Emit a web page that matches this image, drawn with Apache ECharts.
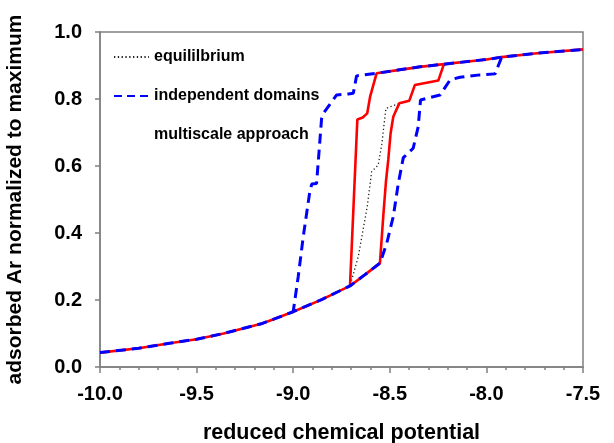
<!DOCTYPE html>
<html>
  <head>
    <meta charset="utf-8" />
    <title>Adsorption hysteresis</title>
    <script src="https://cdn.jsdelivr.net/npm/echarts@6/dist/echarts.min.js"></script>
    <style>
      html, body { margin: 0; padding: 0; background: #fff; }
    </style>
  </head>
  <body>
    <div id="main" style="width: 614px; height: 443px"></div>

    <script type="text/javascript">
      // branches, [mu, adsorbed fraction]
      var lowerBranch = [
        [-10.0, 0.043], [-9.8, 0.056], [-9.64, 0.071], [-9.5, 0.083],
        [-9.36, 0.1], [-9.16, 0.13], [-9.0, 0.165], [-8.85, 0.202],
        [-8.706, 0.242], [-8.63, 0.275], [-8.551, 0.31]
      ];
      var upperBranch = [
        [-8.672, 0.869], [-8.568, 0.877], [-8.45, 0.887], [-8.344, 0.896],
        [-8.22, 0.904], [-8.0, 0.918], [-7.921, 0.925], [-7.75, 0.936],
        [-7.5, 0.948]
      ];
      var equilibriumRise = [
        [-8.715, 0.245], [-8.663, 0.33], [-8.617, 0.478], [-8.594, 0.583],
        [-8.56, 0.603], [-8.542, 0.663], [-8.52, 0.772], [-8.45, 0.787],
        [-8.399, 0.795], [-8.37, 0.842], [-8.249, 0.855], [-8.22, 0.904]
      ];
      var multiscaleUp = [
        [-8.534, 0.449], [-8.52, 0.553], [-8.508, 0.618], [-8.496, 0.697],
        [-8.482, 0.747], [-8.451, 0.787], [-8.399, 0.795], [-8.37, 0.842],
        [-8.249, 0.855], [-8.22, 0.904]
      ];
      var multiscaleDown = [
        [-8.602, 0.807], [-8.617, 0.757], [-8.64, 0.745], [-8.668, 0.739],
        [-8.706, 0.242]
      ];
      var independentUp = [
        [-8.516, 0.369], [-8.482, 0.449], [-8.456, 0.548], [-8.43, 0.625],
        [-8.379, 0.653], [-8.353, 0.717], [-8.341, 0.797], [-8.309, 0.802],
        [-8.24, 0.812], [-8.188, 0.857], [-8.137, 0.865], [-8.033, 0.872],
        [-7.955, 0.875], [-7.921, 0.925]
      ];
      var independentDown = [
        [-8.689, 0.817], [-8.715, 0.815], [-8.775, 0.812], [-8.844, 0.757],
        [-8.853, 0.742], [-8.879, 0.548], [-8.904, 0.546], [-8.915, 0.52],
        [-8.948, 0.389], [-8.974, 0.27], [-9.0, 0.165]
      ];
      var legendNames = ["equililbrium", "independent domains", "multiscale approach"];

      function part(branch, from, to) {
        return branch.filter(function (p) { return p[0] >= from && p[0] <= to; });
      }

      var eqPath = part(lowerBranch, -10, -8.706).concat(equilibriumRise, part(upperBranch, -8.2, -7.5));
      var msAds = lowerBranch.concat(multiscaleUp, part(upperBranch, -8.2, -7.5));
      var msDes = part(upperBranch, -8.568, -8.22).reverse().concat(multiscaleDown);
      var idAds = lowerBranch.concat(independentUp, part(upperBranch, -7.9, -7.5));
      var idDes = part(upperBranch, -8.672, -7.921).reverse().concat(independentDown);

      var font = "'Liberation Sans', Arial, sans-serif";
      var red = { color: "#ff0000", width: 2.6, type: "solid" };
      var blue = { color: "#0000ff", width: 3, type: [10, 6] };

      var myChart = echarts.init(document.getElementById("main"));
      var option = {
        animation: false,
        grid: {
          left: 100, right: 31, top: 32, bottom: 76,
          containLabel: false, outerBoundsMode: "none",
          show: true, borderColor: "#808080", borderWidth: 1.5
        },
        legend: {
          data: [
            { name: legendNames[0] },
            { name: legendNames[1], lineStyle: { type: [8, 5] } },
            { name: legendNames[2], lineStyle: { opacity: 0 } }
          ],
          orient: "vertical",
          left: 113, top: 49, padding: 0,
          itemWidth: 35, itemHeight: 14, itemGap: 23,
          itemStyle: { opacity: 0 },
          textStyle: { fontFamily: font, fontWeight: "bold", fontSize: 16, color: "#000" }
        },
        xAxis: {
          type: "value", min: -10, max: -7.5, interval: 0.5,
          name: "reduced chemical potential", nameLocation: "middle", nameGap: 55,
          nameTextStyle: { fontFamily: font, fontWeight: "bold", fontSize: 21.5, color: "#000" },
          axisLine: { lineStyle: { color: "#808080", width: 1.5 } },
          axisTick: { length: 6, lineStyle: { color: "#808080", width: 1.5 } },
          minorTick: { show: true, splitNumber: 5, length: 3, lineStyle: { color: "#808080", width: 1.5 } },
          splitLine: { show: false },
          axisLabel: {
            margin: 17, fontFamily: font, fontWeight: "bold", fontSize: 20, color: "#000",
            formatter: function (v) { return v.toFixed(1); }
          }
        },
        yAxis: {
          type: "value", min: 0, max: 1, interval: 0.2,
          name: "adsorbed Ar normalized to maximum", nameLocation: "middle", nameGap: 74, nameRotate: 90,
          nameTextStyle: { fontFamily: font, fontWeight: "bold", fontSize: 21, color: "#000" },
          axisLine: { show: true, lineStyle: { color: "#808080", width: 1.5 } },
          axisTick: { show: true, length: 5, lineStyle: { color: "#808080", width: 1.5 } },
          splitLine: { show: false },
          axisLabel: {
            margin: 18, fontFamily: font, fontWeight: "bold", fontSize: 20, color: "#000",
            formatter: function (v) { return v.toFixed(1); }
          }
        },
        series: [
          {
            name: legendNames[0], type: "line", data: eqPath, symbol: "none",
            lineStyle: { color: "#222", width: 1.3, type: [1.3, 2.5] }, itemStyle: { color: "#000" }
          },
          { name: legendNames[2], type: "line", data: msAds, symbol: "none", lineStyle: red, itemStyle: { color: "#ff0000" } },
          { name: legendNames[2], type: "line", data: msDes, symbol: "none", lineStyle: red, itemStyle: { color: "#ff0000" } },
          { name: legendNames[1], type: "line", data: idAds, symbol: "none", lineStyle: blue, itemStyle: { color: "#0000ff" } },
          { name: legendNames[1], type: "line", data: idDes, symbol: "none", lineStyle: blue, itemStyle: { color: "#0000ff" } }
        ]
      };
      myChart.setOption(option);
    </script>
  </body>
</html>
